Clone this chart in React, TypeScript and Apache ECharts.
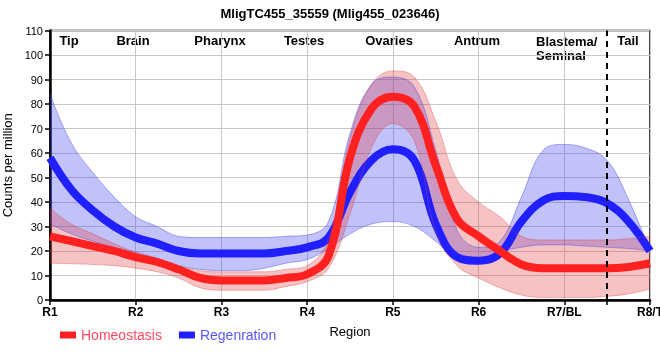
import React, { useEffect, useRef } from "react";
import * as echarts from "echarts";

const xs = ["1","1.25","1.5","1.75","2","2.25","2.5","2.75","3","3.25","3.5","3.75","4","4.25","4.5","4.75","5","5.25","5.5","5.75","6","6.25","6.5","6.75","7","7.25","7.5","7.75","8"];
const tickLabels = ["R1","R2","R3","R4","R5","R6","R7/BL","R8/T"];
const regionNames = ["Tip","Brain","Pharynx","Testes","Ovaries","Antrum","Blastema/\nSeminal","Tail"];

const regMean = [58,45,36.5,30,25.5,23,20,19,19,19,19,20,21.5,25.5,44,57,61.5,57,31,17.5,16,19,32,40.5,42.5,42,39.5,32,20];
const regUpper = [84,64,52,42,34,30,26,25.5,25.5,25.5,25.5,26,26.5,32,68,88,91,87,61,28.5,21.5,24,42,61,63.5,62,57,41,20];
const regLower = [31,27,24,21.5,19.5,17,14,12.5,12,12,13,15,16.5,21,27,31,32,30,24,16.5,15,19.5,21.5,22.5,22.5,22,21.5,21,20];

const homMean = [26,24,22,20,17.5,15.5,12.5,9,8,8,8,9,10.5,18,58,78,83,79,55,33,26,20,14.5,13,13,13,13,13.5,15];
const homUpper = [37.5,31,27,23,19.5,17,14,12,11.5,11.5,11.5,12.5,14,25,66,88,93.5,91,73,49,40,34,26,24.5,24.5,24.5,24.5,25,26];
const homLower = [15,14.8,14.5,14,13,11.5,9,5,4,4,4,5.5,7.5,13,35,62,72,65,28,14,9,5,2,1,1,1,1.5,2.5,4.5];

const FONT = "'Liberation Sans', Arial, sans-serif";

export default function App() {
  const ref = useRef<HTMLDivElement>(null);
  useEffect(() => {
    if (!ref.current) return;
    const chart = echarts.init(ref.current, null, { renderer: "svg" });
    const smooth = 0.4;
    const diff = (u: number[], l: number[]) => u.map((v, i) => +(v - l[i]).toFixed(2));
    const isMajor = (i: number) => i % 4 === 0;
    const regionPos = [69, 133, 220, 304, 389, 477, 536, 628];

    chart.setOption({
      animation: false,
      textStyle: { fontFamily: FONT },
      title: {
        text: "MligTC455_35559 (Mlig455_023646)",
        left: "center",
        top: 2,
        textStyle: { fontSize: 13, fontWeight: "bold", color: "#000", fontFamily: FONT },
      },
      grid: {
        left: 50, right: 10, top: 30.5, bottom: 60,
        containLabel: false,
        outerBoundsMode: "none",
        show: true, borderColor: "#000", borderWidth: 1.5,
      },
      legend: {
        left: 55, top: 323, icon: "rect", itemWidth: 16, itemHeight: 7, itemGap: 17,
        textStyle: { fontSize: 14, fontFamily: FONT },
        data: [
          { name: "Homeostasis", textStyle: { color: "#ff4a5e" } },
          { name: "Regenration", textStyle: { color: "#5858ff" } },
        ],
      },
      xAxis: {
        type: "category",
        data: xs,
        boundaryGap: false,
        name: "Region",
        nameLocation: "middle",
        nameGap: 25,
        nameTextStyle: { fontSize: 13, color: "#000", fontFamily: FONT },
        axisLine: { lineStyle: { color: "#000", width: 2.5 } },
        axisTick: { interval: (i: number) => isMajor(i) || i === 26, length: 5, lineStyle: { color: "#000", width: 1.5 } },
        axisLabel: {
          interval: (i: number) => isMajor(i),
          formatter: (v: string) => tickLabels[Number(v) - 1] ?? "",
          color: "#000", fontSize: 12, fontWeight: "bold", margin: 6, fontFamily: FONT,
        },
        splitLine: { show: true, interval: (i: number) => isMajor(i), lineStyle: { color: "#c8c8c8", width: 1 } },
      },
      yAxis: {
        type: "value", min: 0, max: 110, interval: 10,
        name: "Counts per million",
        nameLocation: "middle",
        nameGap: 27,
        nameTextStyle: { fontSize: 13, color: "#000", fontFamily: FONT },
        axisLine: { show: true, lineStyle: { color: "#000", width: 2.5 } },
        axisTick: { show: true, length: 5, lineStyle: { color: "#000", width: 1.5 } },
        axisLabel: { color: "#000", fontSize: 11, margin: 7, fontFamily: FONT },
        splitLine: { lineStyle: { color: "#c8c8c8", width: 1 } },
      },
      graphic: regionNames.map((t, i) => ({
        type: "text",
        x: regionPos[i],
        y: i === 6 ? 34 : 40,
        silent: true,
        style: {
          text: t,
          font: `bold 13px ${FONT}`,
          fill: "#000",
          align: i === 6 ? "left" : "center",
          verticalAlign: i === 6 ? "top" : "middle",
          textAlign: i === 6 ? "left" : "center",
          textVerticalAlign: i === 6 ? "top" : "middle",
          lineHeight: 14,
        },
      })),
      series: [
        {
          name: "regLow", type: "line", stack: "reg", data: regLower, symbol: "none", smooth, silent: true,
          lineStyle: { width: 0.8, color: "rgba(70,70,230,0.55)" },
        },
        {
          name: "regBand", type: "line", stack: "reg", data: diff(regUpper, regLower), symbol: "none", smooth, silent: true,
          lineStyle: { width: 0.8, color: "rgba(70,70,230,0.55)" },
          areaStyle: { color: "rgba(60,60,240,0.45)" },
        },
        {
          name: "Regenration", type: "line", data: regMean, symbol: "none", smooth,
          color: "#2020ff", itemStyle: { color: "#2020ff" },
          lineStyle: { width: 8, color: "#2020ff" },
        },
        {
          name: "homLow", type: "line", stack: "hom", data: homLower, symbol: "none", smooth, silent: true,
          lineStyle: { width: 0.8, color: "rgba(220,60,60,0.45)" },
        },
        {
          name: "homBand", type: "line", stack: "hom", data: diff(homUpper, homLower), symbol: "none", smooth, silent: true,
          lineStyle: { width: 0.8, color: "rgba(220,60,60,0.45)" },
          areaStyle: { color: "rgba(220,50,50,0.42)" },
        },
        {
          name: "Homeostasis", type: "line", data: homMean, symbol: "none", smooth,
          color: "#ff2020", itemStyle: { color: "#ff2020" },
          lineStyle: { width: 8, color: "#ff2020" },
          markLine: {
            silent: true, symbol: "none", label: { show: false },
            lineStyle: { color: "#000", type: [6, 5], width: 2 },
            data: [{ xAxis: "7.5" }],
          },
        },
      ],
    });
    return () => chart.dispose();
  }, []);
  return <div ref={ref} style={{ position: "fixed", left: 0, top: 0, width: 660, height: 360 }} />;
}
